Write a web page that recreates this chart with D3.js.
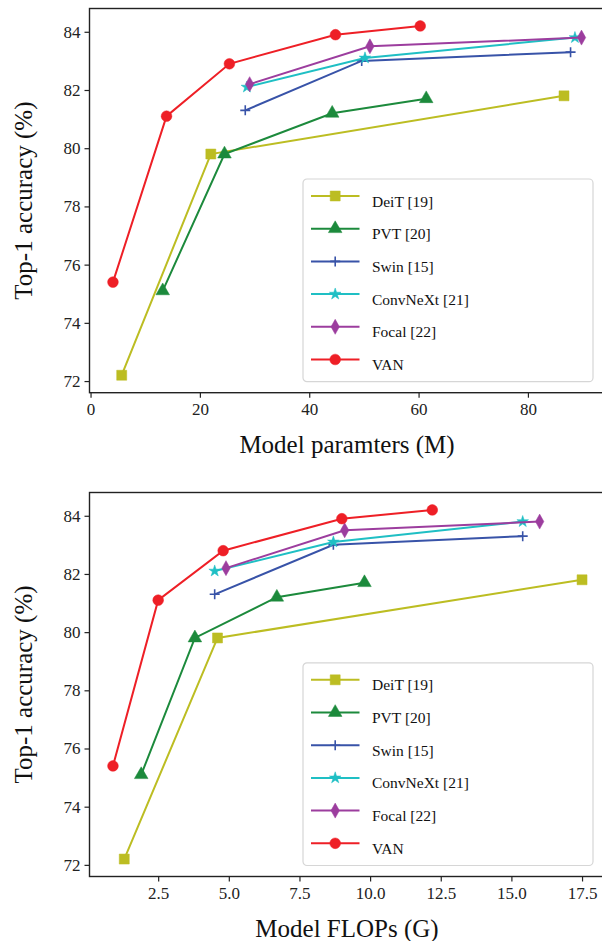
<!DOCTYPE html>
<html>
<head>
  <meta charset="utf-8">
  <style>
    body { margin: 0; background: #fff; }
    svg { display: block; font-family: "Liberation Serif", "Times New Roman", serif; }
  </style>
</head>
<body>
<svg id="chart" width="602" height="941"></svg>
<script src="https://cdn.jsdelivr.net/npm/d3@7"></script>
<script>
  // series names, in legend order
  const seriesNames = ["DeiT [19]", "PVT [20]", "Swin [15]", "ConvNeXt [21]", "Focal [22]", "VAN"];

  // model parameters (M)
  const deitParams = [5.7, 22.0, 86.6];
  const pvtParams = [13.2, 24.5, 44.2, 61.4];
  const swinParams = [28.3, 49.6, 87.8];
  const convnextParams = [28.6, 50.2, 88.6];
  const focalParams = [29.1, 51.1, 89.8];
  const vanParams = [4.1, 13.9, 25.4, 44.8, 60.3];

  // FLOPs (G)
  const deitFlops = [1.3, 4.6, 17.5];
  const pvtFlops = [1.9, 3.8, 6.7, 9.8];
  const swinFlops = [4.5, 8.7, 15.4];
  const convnextFlops = [4.5, 8.7, 15.4];
  const focalFlops = [4.9, 9.1, 16.0];
  const vanFlops = [0.9, 2.5, 4.8, 9.0, 12.2];

  // top-1 accuracy (%)
  const deitAcc = [72.2, 79.8, 81.8];
  const pvtAcc = [75.1, 79.8, 81.2, 81.7];
  const swinAcc = [81.3, 83.0, 83.3];
  const convnextAcc = [82.1, 83.1, 83.8];
  const focalAcc = [82.2, 83.5, 83.8];
  const vanAccParams = [75.4, 81.1, 82.9, 83.9, 84.2];
  const vanAccFlops = [75.4, 81.1, 82.8, 83.9, 84.2];

  const yTicks = [72, 74, 76, 78, 80, 82, 84];
  const paramTicks = [0, 20, 40, 60, 80];
  const flopTicks = [2.5, 5.0, 7.5, 10.0, 12.5, 15.0, 17.5];

  const colors = ["#bcbd22", "#1c8a3c", "#3853a8", "#1fbfc4", "#9c3d9e", "#ee1f26"];
  const markers = ["square", "triangle", "plus", "star", "diamond", "circle"];

  const svg = d3.select("#chart");

  function markerPath(type) {
    if (type === "square") return d3.symbol(d3.symbolSquare, 100)();
    if (type === "triangle") return d3.symbol(d3.symbolTriangle, 80)();
    if (type === "circle") return d3.symbol(d3.symbolCircle, 90)();
    if (type === "star") return d3.symbol(d3.symbolStar, 42)();
    if (type === "diamond") return "M0,-7.5L4.2,0L0,7.5L-4.2,0Z";
    if (type === "plus") return "M-5,0H5M0,-5V5";
    return "";
  }

  function drawMarker(g, type, color, x, y) {
    const p = g.append("path")
      .attr("d", markerPath(type))
      .attr("transform", `translate(${x},${y})`);
    if (type === "plus") {
      p.attr("fill", "none").attr("stroke", color).attr("stroke-width", 1.6);
    } else {
      p.attr("fill", color).attr("stroke", color).attr("stroke-width", 0.5);
    }
  }

  function panel(opts) {
    const g = svg.append("g");
    const x = d3.scaleLinear().domain(opts.xDomain).range([89.5, 605.5]);
    const y = d3.scaleLinear().domain([71.6, 84.8]).range([opts.bottom, opts.top]);

    // frame
    g.append("rect")
      .attr("x", 89.5).attr("y", opts.top)
      .attr("width", 516).attr("height", opts.bottom - opts.top)
      .attr("fill", "none").attr("stroke", "#222").attr("stroke-width", 1.4);

    const yAxis = g.append("g")
      .attr("transform", "translate(89.5,0)")
      .call(d3.axisLeft(y).tickValues(yTicks).tickSize(5).tickPadding(4));
    const xAxis = g.append("g")
      .attr("transform", `translate(0,${opts.bottom})`)
      .call(d3.axisBottom(x).tickValues(opts.xTicks).tickFormat(opts.fmt).tickSize(5).tickPadding(5));
    [yAxis, xAxis].forEach(a => {
      a.select(".domain").remove();
      a.selectAll("line").attr("stroke", "#222").attr("stroke-width", 1.2);
      a.selectAll("text").attr("fill", "#222").style("font-size", "17px").style("font-family", "Liberation Serif, serif");
    });

    g.append("text")
      .attr("x", 347).attr("y", opts.bottom + 60)
      .attr("text-anchor", "middle")
      .attr("fill", "#111")
      .style("font-size", "25px")
      .text(opts.xLabel);
    g.append("text")
      .attr("transform", `translate(32,${(opts.top + opts.bottom) / 2}) rotate(-90)`)
      .attr("text-anchor", "middle")
      .attr("fill", "#111")
      .style("font-size", "25px")
      .text("Top-1 accuracy (%)");

    const line = d3.line().x(d => x(d[0])).y(d => y(d[1]));
    opts.xs.forEach((xs, i) => {
      const pts = xs.map((v, j) => [v, opts.accs[i][j]]);
      g.append("path")
        .attr("d", line(pts))
        .attr("fill", "none")
        .attr("stroke", colors[i])
        .attr("stroke-width", 2);
      pts.forEach(p => drawMarker(g, markers[i], colors[i], x(p[0]), y(p[1])));
    });

    // legend
    const lg = g.append("g").attr("transform", `translate(303,${opts.bottom - 213.7})`);
    lg.append("rect")
      .attr("x", 0).attr("y", 0).attr("width", 290).attr("height", 202.7)
      .attr("rx", 4)
      .attr("fill", "#fff").attr("stroke", "#d6d6d6").attr("stroke-width", 1.2);
    seriesNames.forEach((name, i) => {
      const ry = 17 + i * 32.7;
      lg.append("line")
        .attr("x1", 8).attr("x2", 56.5).attr("y1", ry).attr("y2", ry)
        .attr("stroke", colors[i]).attr("stroke-width", 2);
      drawMarker(lg, markers[i], colors[i], 32.2, ry);
      lg.append("text")
        .attr("x", 69).attr("y", ry + 10.5)
        .attr("fill", "#111")
        .style("font-size", "15.5px")
        .text(name);
    });
  }

  panel({
    top: 8.5, bottom: 392.7,
    xDomain: [-0.19, 94.19],
    xTicks: paramTicks,
    fmt: d3.format("d"),
    xLabel: "Model paramters (M)",
    xs: [deitParams, pvtParams, swinParams, convnextParams, focalParams, vanParams],
    accs: [deitAcc, pvtAcc, swinAcc, convnextAcc, focalAcc, vanAccParams]
  });

  panel({
    top: 492.5, bottom: 876.5,
    xDomain: [0.07, 18.33],
    xTicks: flopTicks,
    fmt: d3.format(".1f"),
    xLabel: "Model FLOPs (G)",
    xs: [deitFlops, pvtFlops, swinFlops, convnextFlops, focalFlops, vanFlops],
    accs: [deitAcc, pvtAcc, swinAcc, convnextAcc, focalAcc, vanAccFlops]
  });
</script>
</body>
</html>
